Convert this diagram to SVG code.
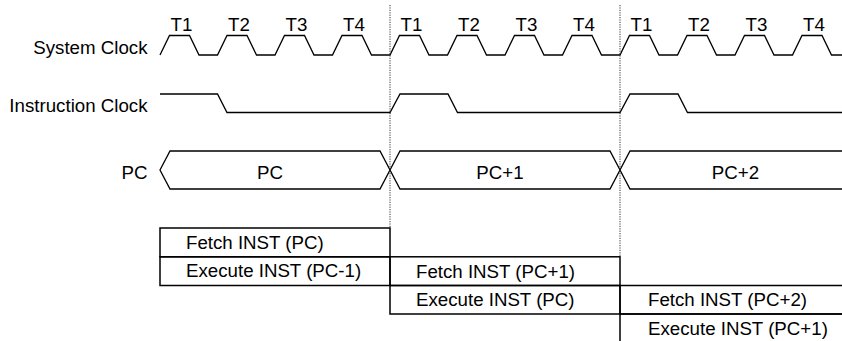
<svg xmlns="http://www.w3.org/2000/svg" width="842" height="341" viewBox="0 0 842 341">
<style>
  text { font-family: "Liberation Sans", Arial, sans-serif; font-size: 18.7px; fill: #000; }
  .lbl { text-anchor: end; }
  .mid { text-anchor: middle; }
  .sig { fill: none; stroke: #000; stroke-width: 1.3; stroke-linejoin: miter; }
  .box { fill: none; stroke: #000; stroke-width: 1.5; }
  .dot { fill: none; stroke: #333; stroke-width: 1; stroke-dasharray: 1.2 1.2; }
</style>
<rect x="0" y="0" width="842" height="341" fill="#fff"/>

<g id="labels">
  <text class="lbl" x="147.5" y="54">System Clock</text>
  <text class="lbl" x="147.5" y="112">Instruction Clock</text>
  <text class="lbl" x="147.5" y="178.5">PC</text>
</g>

<g id="system-clock">
  <polyline class="sig" points="160,55 169.5,35.5 189.5,35.5 199,55 217.5,55 227,35.5 247,35.5 256.5,55 275,55 284.5,35.5 304.5,35.5 314,55 332.5,55 342,35.5 362,35.5 371.5,55 390,55 399.5,35.5 419.5,35.5 429,55 447.5,55 457,35.5 477,35.5 486.5,55 505,55 514.5,35.5 534.5,35.5 544,55 562.5,55 572,35.5 592,35.5 601.5,55 620,55 629.5,35.5 649.5,35.5 659,55 677.5,55 687,35.5 707,35.5 716.5,55 735,55 744.5,35.5 764.5,35.5 774,55 792.5,55 802,35.5 822,35.5 831.5,55 845,55"/>
  <g>
    <text class="mid" x="181.5" y="31">T1</text>
    <text class="mid" x="239" y="31">T2</text>
    <text class="mid" x="296.5" y="31">T3</text>
    <text class="mid" x="354" y="31">T4</text>
    <text class="mid" x="411.5" y="31">T1</text>
    <text class="mid" x="469" y="31">T2</text>
    <text class="mid" x="526.5" y="31">T3</text>
    <text class="mid" x="584" y="31">T4</text>
    <text class="mid" x="641.5" y="31">T1</text>
    <text class="mid" x="699" y="31">T2</text>
    <text class="mid" x="756.5" y="31">T3</text>
    <text class="mid" x="814" y="31">T4</text>
  </g>
</g>

<g id="instruction-clock">
  <polyline class="sig" points="160,94 217.5,94 227,112.5 390,112.5 400,94 448,94 457.5,112.5 620,112.5 630,94 678,94 687.5,112.5 845,112.5"/>
</g>

<g id="pc-bus">
  <polygon class="sig" points="160,170 170,151 380,151 390,170 380,189 170,189"/>
  <polygon class="sig" points="390,170 400,151 610,151 620,170 610,189 400,189"/>
  <path class="sig" d="M850,151 H630 L620,170 L630,189 H850"/>
  <text class="mid" x="270" y="178.5">PC</text>
  <text class="mid" x="500" y="178.5">PC+1</text>
  <text class="mid" x="735.5" y="178.5">PC+2</text>
</g>

<g id="connectors">
  <line class="dot" x1="390" y1="5" x2="390" y2="228"/>
  <line class="dot" x1="620" y1="5" x2="620" y2="257"/>
</g>

<g id="fetch-pc">
  <rect class="box" x="160" y="228" width="230" height="28.8"/>
  <text x="186" y="248.5">Fetch INST (PC)</text>
</g>
<g id="execute-pc-1">
  <rect class="box" x="160" y="256.8" width="230" height="28.7"/>
  <text x="186" y="277">Execute INST (PC-1)</text>
</g>
<g id="fetch-pc+1">
  <rect class="box" x="390" y="256.8" width="230" height="28.7"/>
  <text x="416" y="277.5">Fetch INST (PC+1)</text>
</g>
<g id="execute-pc">
  <rect class="box" x="390" y="285.5" width="230" height="28.5"/>
  <text x="416" y="306">Execute INST (PC)</text>
</g>
<g id="fetch-pc+2">
  <path class="box" d="M850,285.5 H620 V314 H850"/>
  <text x="648" y="306">Fetch INST (PC+2)</text>
</g>
<g id="execute-pc+1">
  <path class="box" d="M850,314 H620 V345"/>
  <text x="648" y="334.5">Execute INST (PC+1)</text>
</g>
</svg>
